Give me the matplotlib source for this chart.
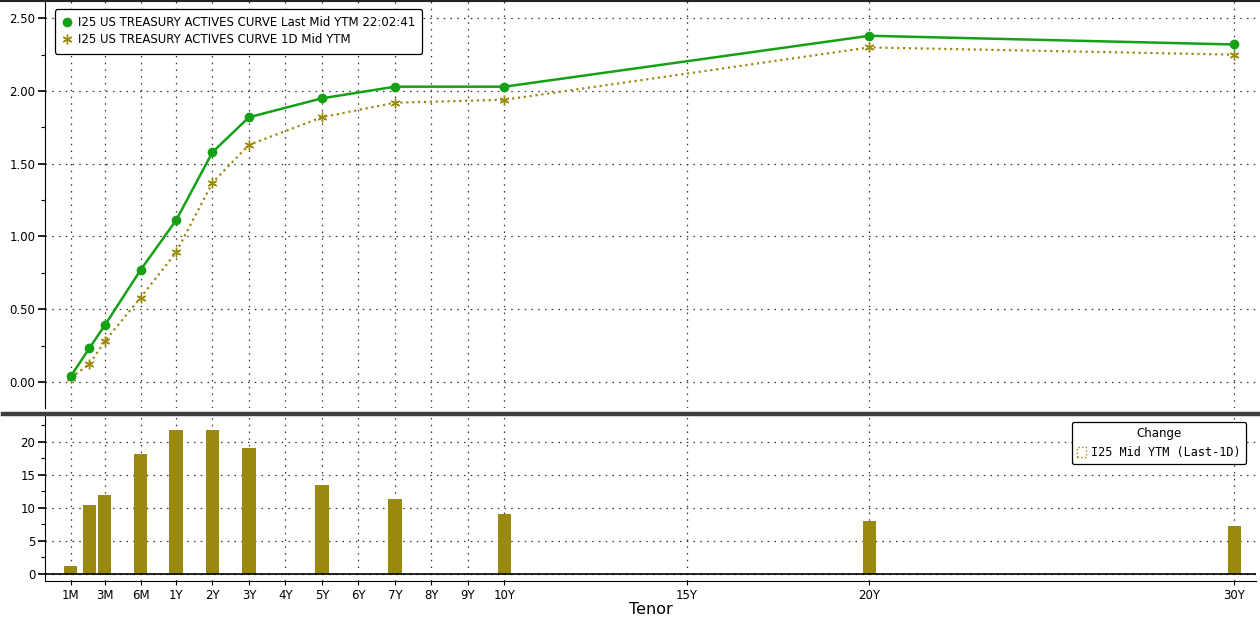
import matplotlib.pyplot as plt
from matplotlib.lines import Line2D
from matplotlib.patches import Patch
from matplotlib.ticker import MultipleLocator

# tenors with data and their place on the Bloomberg-style tenor axis
tenors = ['1M', '2M', '3M', '6M', '1Y', '2Y', '3Y', '5Y', '7Y', '10Y', '20Y', '30Y']
tenor_pos = [0.12, 0.62, 1.05, 2.03, 3, 4, 5, 7, 9, 12, 22, 32]

last_ytm = [0.04, 0.23, 0.39, 0.77, 1.11, 1.58, 1.82, 1.95, 2.03, 2.03, 2.38, 2.32]
prev_ytm = [0.03, 0.12, 0.28, 0.58, 0.89, 1.37, 1.63, 1.82, 1.92, 1.94, 2.30, 2.25]
change_bp = [1.2, 10.5, 12.0, 18.2, 21.8, 21.8, 19.0, 13.4, 11.4, 9.0, 8.0, 7.3]

tick_labels = ['1M', '3M', '6M', '1Y', '2Y', '3Y', '4Y', '5Y', '6Y', '7Y', '8Y', '9Y',
               '10Y', '15Y', '20Y', '30Y']
tick_pos = [0.12, 1.05, 2.03, 3, 4, 5, 6, 7, 8, 9, 10, 11, 12, 17, 22, 32]

green = '#16a016'
olive = '#998a0e'
grid_kw = dict(color='#333333', linestyle=(0, (1.2, 4.2)), linewidth=0.9)

fig = plt.figure(figsize=(12.6, 6.19), dpi=100)
ax1 = fig.add_axes([0.0357, 0.3409, 0.9613, 0.657])
ax2 = fig.add_axes([0.0357, 0.0614, 0.9613, 0.2666])

ax1.plot(tenor_pos, last_ytm, color=green, lw=1.8, marker='o', ms=6,
         label='I25 US TREASURY ACTIVES CURVE Last Mid YTM 22:02:41', zorder=4)
ax1.plot(tenor_pos, prev_ytm, color=olive, lw=1.6, linestyle=':', marker=(6, 2, 0),
         ms=7, mew=1.0, label='I25 US TREASURY ACTIVES CURVE 1D Mid YTM', zorder=3)

ax2.bar(tenor_pos, change_bp, width=0.36, color=olive, zorder=3)
ax2.axhline(0, color='black', lw=1.2, zorder=4)

for ax in (ax1, ax2):
    ax.set_xlim(-0.59, 32.6)
    ax.set_xticks(tick_pos)
    ax.grid(True, **grid_kw)
    ax.set_axisbelow(True)
    for s in ('top', 'right'):
        ax.spines[s].set_visible(False)
    ax.tick_params(axis='y', which='major', direction='out', length=5, width=1.2,
                   labelsize=8.5, pad=2)
    ax.tick_params(axis='y', which='minor', direction='out', length=3, width=0.8)

ax1.spines['bottom'].set_visible(False)
ax1.tick_params(axis='x', length=0, labelbottom=False)
ax1.set_ylim(-0.179, 2.617)
ax1.yaxis.set_major_locator(MultipleLocator(0.5))
ax1.yaxis.set_minor_locator(MultipleLocator(0.25))
ax1.yaxis.set_major_formatter(lambda v, p: f'{v:.2f}')

ax2.set_ylim(-1.06, 23.9)
ax2.yaxis.set_major_locator(MultipleLocator(5))
ax2.yaxis.set_minor_locator(MultipleLocator(2.5))
ax2.set_xticklabels(tick_labels, fontsize=8.5)
ax2.tick_params(axis='x', direction='out', length=3, pad=3)
ax2.set_xlabel('Tenor', fontsize=11.5, labelpad=0)

leg1 = ax1.legend(loc='upper left', bbox_to_anchor=(0.003, 0.995), fontsize=8.5,
                  frameon=True, fancybox=True, edgecolor='black', handlelength=0.9,
                  handletextpad=0.5, borderpad=0.6, labelspacing=0.35, framealpha=1)
leg1.get_frame().set_linewidth(0.9)
for h in leg1.get_lines():
    h.set_linestyle('none')

handle = Patch(facecolor='none', edgecolor=olive, linestyle=':', linewidth=1)
leg2 = ax2.legend([handle], ['I25 Mid YTM (Last-1D)'], title='Change', loc='upper right',
                  bbox_to_anchor=(0.9965, 1.0), frameon=True, fancybox=True,
                  edgecolor='black', handlelength=0.8, handleheight=1.0,
                  handletextpad=0.4, borderpad=0.45, framealpha=1,
                  prop={'family': 'DejaVu Sans Mono', 'size': 8.5})
leg2.get_title().set_fontsize(8.5)
leg2.get_frame().set_linewidth(0.9)

# panel divider and top border
fig.add_artist(Line2D([0.002, 1.0], [0.3312, 0.3312], color='#3c3c3c', lw=3.2))
fig.add_artist(Line2D([0.0, 1.0], [0.999, 0.999], color='#222222', lw=1.5))

fig.savefig('out.png', dpi=100)
